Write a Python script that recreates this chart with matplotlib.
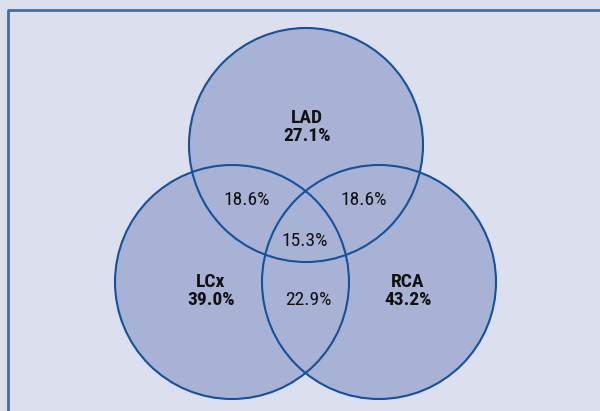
import matplotlib
matplotlib.use('Agg')
import matplotlib.pyplot as plt
from matplotlib.patches import Circle

plt.rcParams['font.family'] = ['Roboto Condensed', 'DejaVu Sans']

# 三支血管的区域名称和百分比
names = ['LAD', 'LCx', 'RCA']
single_pct = ['27.1%', '39.0%', '43.2%']
centers = [(306, 145), (232, 282), (379, 282)]
radius = 117
label_pos = [(307, 127), (211, 291), (408, 291)]

overlap_pct = ['18.6%', '18.6%', '15.3%', '22.9%']
overlap_pos = [(247, 200), (364, 200), (305, 241), (308, 300)]

fig = plt.figure(figsize=(6, 4.11), dpi=100)
fig.patch.set_facecolor('#dcdfee')
ax = fig.add_axes([0, 0, 1, 1])
ax.set_xlim(0, 600)
ax.set_ylim(411, 0)
ax.axis('off')

# 外框 (只看到左边和上边)
ax.plot([8, 8, 600], [411, 10, 10], color='#3a6fb0', lw=2, solid_capstyle='butt')

for c in centers:
    ax.add_patch(Circle(c, radius, facecolor='#a8b2d4', edgecolor='none', zorder=2))
for c in centers:
    ax.add_patch(Circle(c, radius, facecolor='none', edgecolor='#13529c', lw=1.5, zorder=3))

for n, p, (x, y) in zip(names, single_pct, label_pos):
    ax.text(x, y, n + '\n' + p, ha='center', va='center', fontsize=14,
            fontweight='bold', color='#111111', zorder=4, linespacing=1.05)

for p, (x, y) in zip(overlap_pct, overlap_pos):
    ax.text(x, y, p, ha='center', va='center', fontsize=14, color='#111111', zorder=4)

plt.savefig('out.png', dpi=100, facecolor=fig.get_facecolor())
